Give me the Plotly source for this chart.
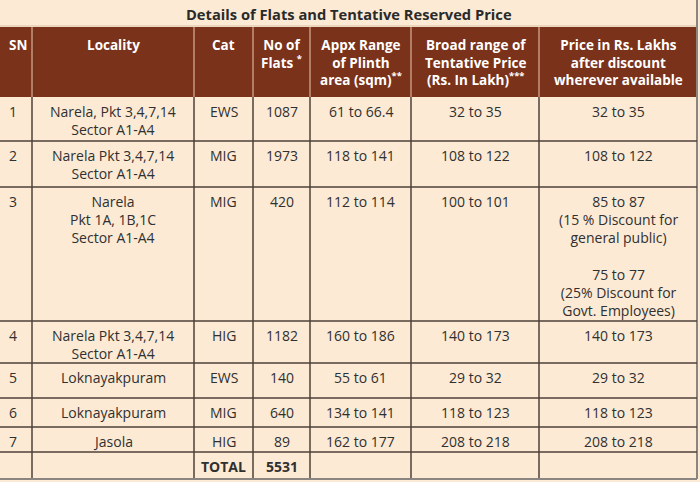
import plotly.graph_objects as go

title = "Details of Flats and Tentative Reserved Price"
headers = ["SN", "Locality", "Cat", "No of<br>Flats <sup>*</sup>", "Appx Range<br>of Plinth<br>area (sqm)<sup>**</sup>",
           "Broad range of<br>Tentative Price<br>(Rs. In Lakh)<sup>***</sup>",
           "Price in Rs. Lakhs<br>after discount<br>wherever available"]
sn = ["1", "2", "3", "4", "5", "6", "7"]
locality = ["Narela, Pkt 3,4,7,14<br>Sector A1-A4", "Narela Pkt 3,4,7,14<br>Sector A1-A4",
            "Narela<br>Pkt 1A, 1B,1C<br>Sector A1-A4", "Narela Pkt 3,4,7,14<br>Sector A1-A4",
            "Loknayakpuram", "Loknayakpuram", "Jasola"]
cat = ["EWS", "MIG", "MIG", "HIG", "EWS", "MIG", "HIG"]
flats = [1087, 1973, 420, 1182, 140, 640, 89]
plinth = ["61 to 66.4", "118 to 141", "112 to 114", "160 to 186", "55 to 61", "134 to 141", "162 to 177"]
tentative = ["32 to 35", "108 to 122", "100 to 101", "140 to 173", "29 to 32", "118 to 123", "208 to 218"]
discount = ["32 to 35", "108 to 122",
            "85 to 87<br>(15 % Discount for<br>general public)<br> <br>75 to 77<br>(25% Discount for<br>Govt. Employees)",
            "140 to 173", "29 to 32", "118 to 123", "208 to 218"]
total_label = "TOTAL"
total_flats = sum(flats)

# layout geometry (pixels)
W, H = 700, 482
col_edges = [0, 32, 194, 253, 310, 411, 539, 697]
head_top, head_bot = 27, 97
row_edges = [97, 141, 187, 321, 363, 398, 427, 452, 479]

BG = "#FCEAD5"
HEAD = "#7A321A"
LINE = "#4f4038"
TXT = "#303030"
FONT = "Open Sans"
FS = 14
HFS = 13.5

fig = go.Figure()
shapes = []
ann = []

shapes.append(dict(type="rect", x0=col_edges[0], x1=col_edges[-1], y0=head_top, y1=head_bot,
                   fillcolor=HEAD, line=dict(width=0), layer="below"))
shapes.append(dict(type="line", x0=0, x1=col_edges[-1], y0=head_top - 1, y1=head_top - 1,
                   line=dict(color="#d9c3a8", width=1)))
for x in col_edges[1:-1]:
    shapes.append(dict(type="line", x0=x, x1=x, y0=head_top, y1=head_bot,
                       line=dict(color="#e8cbb0", width=1)))
shapes.append(dict(type="line", x0=col_edges[-1], x1=col_edges[-1], y0=0, y1=row_edges[-1],
                   line=dict(color="#8a8580", width=2)))
for x in col_edges[1:-1]:
    shapes.append(dict(type="line", x0=x, x1=x, y0=head_bot, y1=row_edges[-1],
                       line=dict(color=LINE, width=1.5)))
for y in row_edges[1:]:
    last = y == row_edges[-1]
    shapes.append(dict(type="line", x0=0, x1=col_edges[-1], y0=y, y1=y,
                       line=dict(color="#8a8580" if last else LINE, width=2 if last else 1.5)))

ann.append(dict(x=(col_edges[0] + col_edges[-1]) / 2, y=14, text="<b>" + title + "</b>", showarrow=False,
                font=dict(family=FONT, size=14.7, color="#2a2a2a"), xanchor="center", yanchor="middle"))

def centers(i):
    return (col_edges[i] + col_edges[i + 1]) / 2

for i, h in enumerate(headers):
    if i == 0:
        x, xa = col_edges[0] + 7, "left"
    else:
        x, xa = centers(i), "center"
    ann.append(dict(x=x, y=head_top + 7, text="<b>" + h + "</b>", showarrow=False, xanchor=xa, yanchor="top",
                    align="center", font=dict(family=FONT, size=HFS, color="white")))

for r in range(len(sn)):
    top = row_edges[r] + 3
    vals = [sn[r], locality[r], cat[r], str(flats[r]), plinth[r], tentative[r], discount[r]]
    for c, v in enumerate(vals):
        if c == 0:
            x, xa = col_edges[0] + 7, "left"
        else:
            x, xa = centers(c), "center"
        ann.append(dict(x=x, y=top, text=v, showarrow=False, xanchor=xa, yanchor="top", align="center",
                        font=dict(family=FONT, size=FS, color=TXT)))

ttop = row_edges[-2] + 3
ann.append(dict(x=centers(2), y=ttop, text="<b>" + total_label + "</b>", showarrow=False, xanchor="center",
                yanchor="top", font=dict(family=FONT, size=FS, color=TXT)))
ann.append(dict(x=centers(3), y=ttop, text="<b>" + str(total_flats) + "</b>", showarrow=False, xanchor="center",
                yanchor="top", font=dict(family=FONT, size=FS, color=TXT)))

fig.update_layout(
    width=W, height=H, margin=dict(l=0, r=0, t=0, b=0),
    paper_bgcolor=BG, plot_bgcolor=BG,
    xaxis=dict(range=[0, W], visible=False, fixedrange=True),
    yaxis=dict(range=[H, 0], visible=False, fixedrange=True),
    shapes=shapes, annotations=ann, showlegend=False,
)
fig.write_html("out.html", config={"displayModeBar": False},
               post_script="document.body.style.margin='0';document.body.style.background='" + BG + "';")
